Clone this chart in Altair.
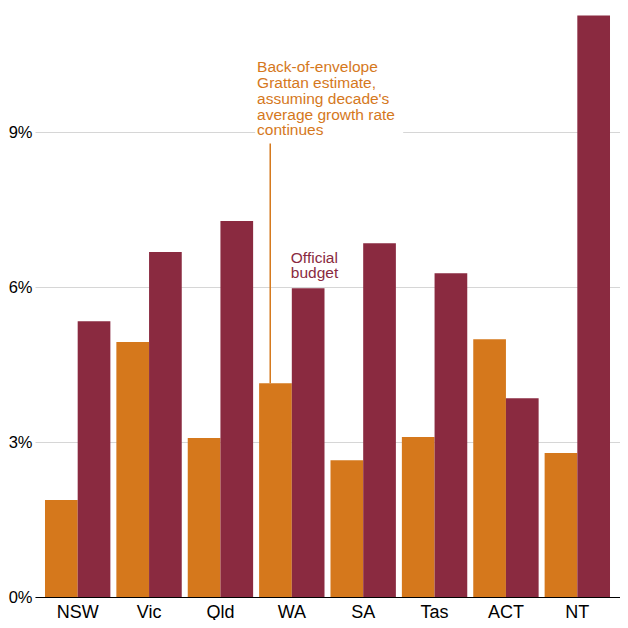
import altair as alt
import pandas as pd

states = ["NSW", "Vic", "Qld", "WA", "SA", "Tas", "ACT", "NT"]
grattan = [1.88, 4.94, 3.08, 4.14, 2.65, 3.10, 4.99, 2.79]
official = [5.34, 6.68, 7.28, 5.98, 6.85, 6.27, 3.85, 11.26]
series_names = ["Grattan", "Official"]
colors = ["#D5781C", "#8A2A40"]
y_ticks = [0, 3, 6, 9]

rows = []
for s, g, o in zip(states, grattan, official):
    rows.append({"state": s, "series": "Grattan", "value": g})
    rows.append({"state": s, "series": "Official", "value": o})
df = pd.DataFrame(rows)

FONT = "Liberation Sans"
ymax = 11.27

xscale = alt.Scale(domain=states, paddingInner=0.084, paddingOuter=0.14)
yscale = alt.Scale(domain=[0, ymax], nice=False, zero=True)

bars = alt.Chart(df).mark_bar().encode(
    x=alt.X("state:N", scale=xscale, sort=states, title=None,
            axis=alt.Axis(labelAngle=0, labelFontSize=18, labelColor="black", labelFont=FONT,
                          domainColor="black", domainWidth=1, ticks=False, labelPadding=6, grid=False)),
    xOffset=alt.XOffset("series:N", sort=series_names, scale=alt.Scale(paddingInner=0, paddingOuter=0)),
    y=alt.Y("value:Q", scale=yscale, title=None,
            axis=alt.Axis(values=y_ticks, labelExpr="datum.value + '%'", labelFontSize=16.5,
                          labelColor="black", labelFont=FONT, domain=False, ticks=False,
                          labelPadding=3, gridColor="#d6d6d6", gridWidth=1)),
    color=alt.Color("series:N", scale=alt.Scale(domain=series_names, range=colors), legend=None),
)

# white box behind the Grattan annotation (breaks the 9% gridline)
box_df = pd.DataFrame({"x1": ["WA"], "x2": ["SA"], "y1": [8.82], "y2": [9.18]})
box = alt.Chart(box_df).mark_rect(color="white", xOffset=-4, x2Offset=40).encode(
    x=alt.X("x1:N", scale=xscale, sort=states, bandPosition=0),
    x2=alt.X2("x2"),
    y=alt.Y("y1:Q", scale=yscale),
    y2="y2:Q",
)

rule_df = pd.DataFrame({"state": ["WA"], "y1": [4.14], "y2": [8.78]})
rule = alt.Chart(rule_df).mark_rule(color="#D5781C", strokeWidth=1.5).encode(
    x=alt.X("state:N", scale=xscale, sort=states, bandPosition=0.17),
    y=alt.Y("y1:Q", scale=yscale),
    y2="y2:Q",
)

g_text = ["Back-of-envelope", "Grattan estimate,", "assuming decade's",
          "average growth rate", "continues"]
o_text = ["Official", "budget"]
ann_df = pd.DataFrame({
    "state": ["WA", "WA"],
    "y": [10.39, 6.70],
    "txt": [g_text, o_text],
})

ann_g = alt.Chart(ann_df.iloc[[0]]).mark_text(
    align="left", baseline="top", fontSize=15.5, font=FONT, lineHeight=15.7, dx=-2, color="#D5781C"
).encode(
    x=alt.X("state:N", scale=xscale, sort=states, bandPosition=0),
    y=alt.Y("y:Q", scale=yscale),
    text="txt",
)
ann_o = alt.Chart(ann_df.iloc[[1]]).mark_text(
    align="left", baseline="top", fontSize=15.5, font=FONT, lineHeight=15, dx=-1, color="#8A2A40"
).encode(
    x=alt.X("state:N", scale=xscale, sort=states, bandPosition=0.5),
    y=alt.Y("y:Q", scale=yscale),
    text="txt",
)

chart = alt.layer(bars, box, rule, ann_g, ann_o).properties(
    width=585, height=582,
    autosize=alt.AutoSizeParams(type="none"),
    padding={"left": 27, "top": 7, "right": 0, "bottom": 23},
).configure_view(stroke=None)

chart.save("out.html", embed_options={"renderer": "svg", "actions": False})
